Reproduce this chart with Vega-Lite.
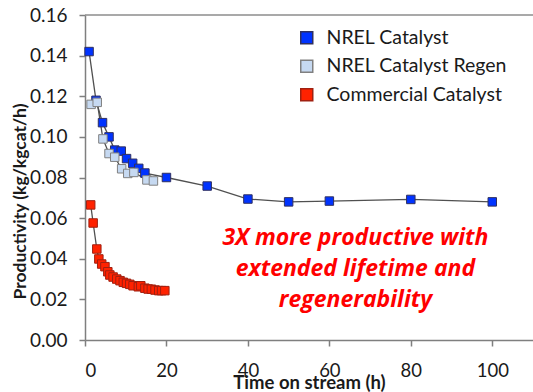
{
  "$schema": "https://vega.github.io/schema/vega-lite/v6.json",
  "width": 448,
  "height": 325,
  "autosize": {"type": "none"},
  "padding": {"left": 85, "top": 15, "right": 0, "bottom": 52},
  "background": "white",
  "config": {
    "view": {"stroke": null},
    "font": "Lato",
    "axis": {"grid": false, "labelFont": "Lato", "titleFont": "Lato", "labelColor": "#1a1a1a", "titleColor": "#1a1a1a", "domainColor": "#7f7f7f", "tickColor": "#7f7f7f", "domainWidth": 1.5, "tickWidth": 1.5}
  },
  "datasets": {
    "pts": [
      {"series": "NREL Catalyst", "t": 1, "p": 0.142},
      {"series": "NREL Catalyst", "t": 2.7, "p": 0.118},
      {"series": "NREL Catalyst", "t": 4.3, "p": 0.107},
      {"series": "NREL Catalyst", "t": 5.9, "p": 0.1},
      {"series": "NREL Catalyst", "t": 7.3, "p": 0.0935},
      {"series": "NREL Catalyst", "t": 8.9, "p": 0.093},
      {"series": "NREL Catalyst", "t": 10.2, "p": 0.0893},
      {"series": "NREL Catalyst", "t": 11.7, "p": 0.087},
      {"series": "NREL Catalyst", "t": 13.2, "p": 0.0845},
      {"series": "NREL Catalyst", "t": 14.7, "p": 0.0822},
      {"series": "NREL Catalyst", "t": 20, "p": 0.08},
      {"series": "NREL Catalyst", "t": 30, "p": 0.0758},
      {"series": "NREL Catalyst", "t": 40, "p": 0.0694},
      {"series": "NREL Catalyst", "t": 50, "p": 0.068},
      {"series": "NREL Catalyst", "t": 60, "p": 0.0684},
      {"series": "NREL Catalyst", "t": 80, "p": 0.0692},
      {"series": "NREL Catalyst", "t": 100, "p": 0.068},
      {"series": "NREL Catalyst Regen", "t": 1.5, "p": 0.116},
      {"series": "NREL Catalyst Regen", "t": 3.0, "p": 0.117},
      {"series": "NREL Catalyst Regen", "t": 4.4, "p": 0.099},
      {"series": "NREL Catalyst Regen", "t": 5.9, "p": 0.0918},
      {"series": "NREL Catalyst Regen", "t": 7.3, "p": 0.09},
      {"series": "NREL Catalyst Regen", "t": 9.0, "p": 0.0843},
      {"series": "NREL Catalyst Regen", "t": 10.5, "p": 0.082},
      {"series": "NREL Catalyst Regen", "t": 12.0, "p": 0.0825},
      {"series": "NREL Catalyst Regen", "t": 15.2, "p": 0.0788},
      {"series": "NREL Catalyst Regen", "t": 16.8, "p": 0.0783},
      {"series": "Commercial Catalyst", "t": 1.4, "p": 0.0665},
      {"series": "Commercial Catalyst", "t": 2.0, "p": 0.0576},
      {"series": "Commercial Catalyst", "t": 2.9, "p": 0.0448},
      {"series": "Commercial Catalyst", "t": 3.4, "p": 0.0399},
      {"series": "Commercial Catalyst", "t": 4.1, "p": 0.0374},
      {"series": "Commercial Catalyst", "t": 4.9, "p": 0.0361},
      {"series": "Commercial Catalyst", "t": 5.6, "p": 0.0336},
      {"series": "Commercial Catalyst", "t": 6.1, "p": 0.032},
      {"series": "Commercial Catalyst", "t": 6.9, "p": 0.031},
      {"series": "Commercial Catalyst", "t": 7.8, "p": 0.03},
      {"series": "Commercial Catalyst", "t": 8.6, "p": 0.0292},
      {"series": "Commercial Catalyst", "t": 9.4, "p": 0.0284},
      {"series": "Commercial Catalyst", "t": 10.2, "p": 0.0279},
      {"series": "Commercial Catalyst", "t": 11.0, "p": 0.0274},
      {"series": "Commercial Catalyst", "t": 11.8, "p": 0.0267},
      {"series": "Commercial Catalyst", "t": 13.1, "p": 0.0262},
      {"series": "Commercial Catalyst", "t": 13.7, "p": 0.0267},
      {"series": "Commercial Catalyst", "t": 14.7, "p": 0.0255},
      {"series": "Commercial Catalyst", "t": 15.5, "p": 0.0251},
      {"series": "Commercial Catalyst", "t": 16.3, "p": 0.025},
      {"series": "Commercial Catalyst", "t": 17.2, "p": 0.0246},
      {"series": "Commercial Catalyst", "t": 18.1, "p": 0.0243},
      {"series": "Commercial Catalyst", "t": 18.8, "p": 0.0243},
      {"series": "Commercial Catalyst", "t": 19.6, "p": 0.0243}
    ],
    "note": [
      {"t": 66.4, "p": 0.0502, "label": "3X more productive with\nextended lifetime and\nregenerability"}
    ],
    "frame": [
      {"p": 0.16}
    ]
  },
  "layer": [
    {
      "data": {"name": "frame"},
      "mark": {"type": "rule", "color": "#8c8c8c", "strokeWidth": 1.5},
      "encoding": {"y": {"field": "p", "type": "quantitative", "scale": {"domain": [0, 0.16]}}}
    },
    {
      "data": {"name": "pts"},
      "mark": {"type": "line", "color": "#505050", "strokeWidth": 1.3},
      "encoding": {
        "x": {"field": "t", "type": "quantitative", "scale": {"domain": [0, 110], "nice": false},
          "axis": {"values": [0, 20, 40, 60, 80, 100], "labelFontSize": 18.5, "tickSize": 6, "labelPadding": 15, "title": "Time on stream (h)", "titleFontSize": 18.5, "titleFontWeight": "bold", "titleY": 48, "titleBaseline": "alphabetic"}},
        "y": {"field": "p", "type": "quantitative", "scale": {"domain": [0, 0.16], "nice": false},
          "axis": {"values": [0, 0.02, 0.04, 0.06, 0.08, 0.1, 0.12, 0.14, 0.16], "format": ".2f", "labelFontSize": 19, "tickSize": 6, "labelPadding": 12, "title": "Productivity (kg/kgcat/h)", "titleFontSize": 17.5, "titleFontWeight": "bold", "titleX": -65, "titleY": 186, "titleAngle": 270, "titleAlign": "center", "titleBaseline": "middle"}},
        "detail": {"field": "series"},
        "order": {"field": "t", "type": "quantitative"}
      }
    },
    {
      "data": {"name": "pts"},
      "mark": {"type": "point", "shape": "square", "filled": true, "opacity": 1, "size": 72, "strokeWidth": 1},
      "encoding": {
        "x": {"field": "t", "type": "quantitative"},
        "y": {"field": "p", "type": "quantitative"},
        "fill": {"field": "series", "type": "nominal", "sort": null,
          "scale": {"domain": ["NREL Catalyst", "NREL Catalyst Regen", "Commercial Catalyst"], "range": ["#0033ff", "#c6d9f1", "#ff2200"]},
          "legend": {"title": null, "orient": "none", "legendX": 212, "legendY": 13, "padding": 0, "symbolType": "square", "symbolSize": 144, "symbolStrokeWidth": 1.5, "symbolStrokeColor": "black", "labelFont": "Lato", "labelFontSize": 19.5, "labelColor": "#1a1a1a", "labelOffset": 10, "labelLimit": 400, "rowPadding": 7.5,
            "encode": {"symbols": {"update": {"stroke": {"value": "black"}, "strokeWidth": {"value": 1.5}}}}}},
        "stroke": {"field": "series", "type": "nominal",
          "scale": {"domain": ["NREL Catalyst", "NREL Catalyst Regen", "Commercial Catalyst"], "range": ["#303060", "#808080", "#a02010"]},
          "legend": null}
      }
    },
    {
      "data": {"name": "note"},
      "mark": {"type": "text", "color": "#ff0000", "font": "Open Sans", "fontSize": 23, "fontWeight": "bold", "fontStyle": "italic", "align": "center", "baseline": "middle", "lineBreak": "\n", "lineHeight": 31},
      "encoding": {
        "x": {"field": "t", "type": "quantitative"},
        "y": {"field": "p", "type": "quantitative"},
        "text": {"field": "label"}
      }
    }
  ]
}
